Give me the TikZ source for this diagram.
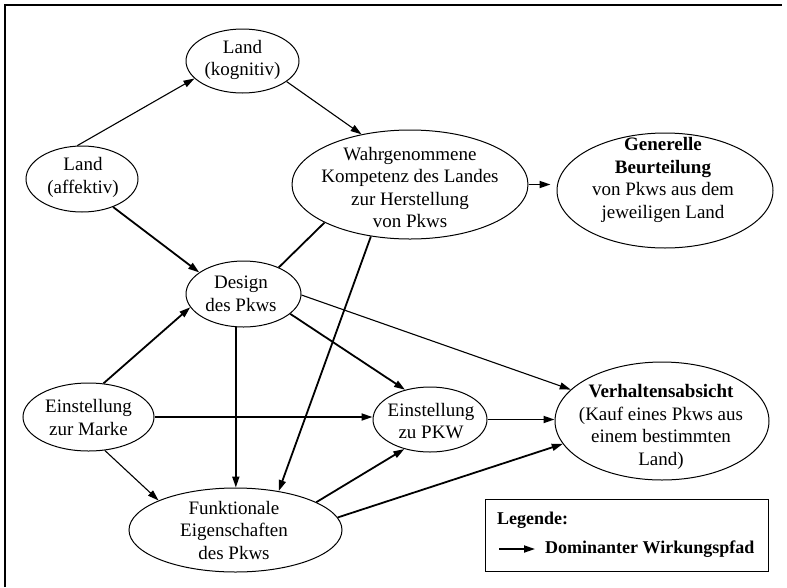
\documentclass[tikz,border=0pt]{standalone}
\usepackage{fontspec}
\setmainfont{Liberation Serif}
\usetikzlibrary{shapes.geometric,arrows.meta}
\begin{document}
\begin{tikzpicture}[x=1pt,y=-1pt,
  oval/.style={draw, ellipse, inner sep=0pt, line width=1pt},
  lbl/.style={align=center, inner sep=0pt, font=\fontsize{19}{22.5}\selectfont},
  leglbl/.style={inner sep=0pt, font=\fontsize{18}{21}\selectfont\bfseries},
  weak/.style={line width=1.1pt, -{Triangle[length=11pt,width=7pt]}},
  strong/.style={line width=1.8pt, -{Triangle[length=11pt,width=7pt]}},
  link/.style={line width=1.8pt}
]
\useasboundingbox (0,0) rectangle (787,587);
% frame
\draw[line width=1.4pt] (5,587) -- (5,5) -- (782,5);

% constructs
\node[oval, minimum width=113pt, minimum height=64pt]  (kog) at (242.5,61)  {};
\node[oval, minimum width=112pt, minimum height=66pt]  (aff) at (82,179)    {};
\node[oval, minimum width=236pt, minimum height=109pt] (wah) at (410,184.5) {};
\node[oval, minimum width=216pt, minimum height=115pt] (gen) at (665,190.5) {};
\node[oval, minimum width=115pt, minimum height=66pt]  (des) at (243.5,294) {};
\node[oval, minimum width=131pt, minimum height=68pt]  (mar) at (88.5,417)  {};
\node[oval, minimum width=114pt, minimum height=65pt]  (pkw) at (430,419.5) {};
\node[oval, minimum width=214pt, minimum height=118pt] (ver) at (662,421)   {};
\node[oval, minimum width=213pt, minimum height=84pt]  (fun) at (235.5,530) {};

% labels
\node[lbl] (kogtxt) at (242.5,60) {Land\\(kognitiv)};
\node[lbl] (afftxt) at (83,177.5) {Land\\(affektiv)};
\node[lbl] (wahtxt) at (410,187.5) {Wahrgenommene\\Kompetenz des Landes\\zur Herstellung\\von Pkws};
\node[lbl] (gentxt) at (663,180) {\textbf{Generelle}\\\textbf{Beurteilung}\\von Pkws aus dem\\jeweiligen Land};
\node[lbl] (destxt) at (241,294) {Design\\des Pkws};
\node[lbl] (martxt) at (88.5,417.5) {Einstellung\\zur Marke};
\node[lbl] (pkwtxt) at (431,421) {Einstellung\\zu PKW};
\node[lbl] (vertxt) at (661,427) {\textbf{Verhaltensabsicht}\\(Kauf eines Pkws aus\\einem bestimmten\\Land)};
\node[lbl] (funtxt) at (234,530) {Funktionale\\Eigenschaften\\des Pkws};

% paths
\draw[weak]   (aff.98)  -- (kog.200);
\draw[weak]   (kog.335) -- (wah.134);
\draw[strong] (aff.318) -- (des.154);
\draw[strong, shorten >=6pt] (wah.east) -- (wah.east -| gen.west);
\draw[link]   (des.37)  -- (wah.204);
\draw[strong] (wah.233) -- (fun.42);
\draw[strong] (des.257) -- (des.257 |- fun.north);
\draw[strong] (des.337) -- (pkw.130);
\draw[weak]   (des.359) -- (ver.161);
\draw[strong] (mar.66)  -- (des.194);
\draw[strong] (mar.east) -- (mar.east -| pkw.west);
\draw[weak]   (mar.296) -- (fun.159);
\draw[strong] (fun.19)  -- (pkw.229);
\draw[strong] (fun.7)   -- (ver.193);
\draw[strong] (pkw.east) -- (pkw.east -| ver.west);

% legend
\node[draw, line width=1pt, minimum width=283pt, minimum height=72pt, inner sep=0pt, anchor=north west] (leg) at (485,499) {};
\node[leglbl, anchor=west] (legtitle) at (497,520) {Legende:};
\coordinate (legA) at (499,549);
\coordinate (legB) at (535,549);
\draw[strong] (legA) -- (legB);
\node[leglbl, anchor=west] (legitem) at (545,549) {Dominanter Wirkungspfad};
\end{tikzpicture}
\end{document}
